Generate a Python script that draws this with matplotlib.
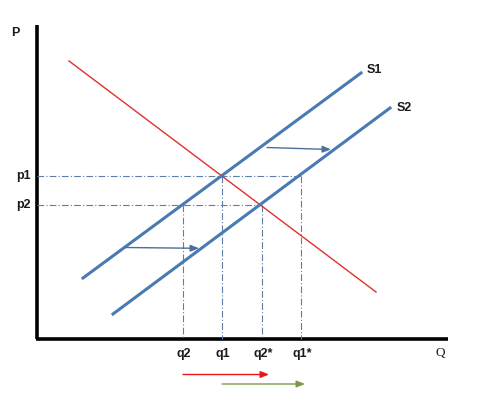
import matplotlib
matplotlib.use("Agg")
import matplotlib.pyplot as plt

# Data (in chart units: x to the right, y downward as in the picture)
demand_x = [69, 376]
demand_y = [61, 292]
s1_x = [83, 361]
s1_y = [278, 73]
s2_x = [113, 390]
s2_y = [314, 108]

price_labels = ["p1", "p2"]
price_levels = [176, 205]
price_ends = [301, 262]

qty_labels = ["q2", "q1", "q2*", "q1*"]
qty_levels = [183, 222, 262, 301]
qty_tops = [205, 176, 205, 176]

shift_arrows = [((267, 147.5), (331, 149.5)), ((125, 247.5), (199, 248.3))]
bottom_arrows = [((183, 374.5), (269, 374.5), "#e8151a"), ((222, 384), (305, 384), "#7a9a48")]

axis_origin = (37, 339)
axis_top = 25
axis_right = 448

BLUE = "#4a7ab4"
DASH = "#5c7ea8"

fig = plt.figure(figsize=(4.81, 4.04), dpi=100)
ax = fig.add_axes([0, 0, 1, 1])
ax.set_xlim(0, 481)
ax.set_ylim(404, 0)
ax.axis("off")

# axes
ax.plot([axis_origin[0], axis_origin[0]], [axis_top, axis_origin[1]], color="black", lw=2.6, solid_capstyle="butt")
ax.plot([axis_origin[0] - 1, axis_right], [axis_origin[1], axis_origin[1]], color="black", lw=2.6, solid_capstyle="butt")

# dashed guide lines
for lvl, end in zip(price_levels, price_ends):
    ax.plot([axis_origin[0], end], [lvl, lvl], color=DASH, lw=0.8, dashes=(6, 2, 1, 2))
for q, top in zip(qty_levels, qty_tops):
    ax.plot([q, q], [top, axis_origin[1]], color=DASH, lw=0.8, dashes=(6, 2, 1, 2))

# curves
ax.plot(demand_x, demand_y, color="#e0312b", lw=1.0)
ax.plot(s1_x, s1_y, color=BLUE, lw=2.2)
ax.plot(s2_x, s2_y, color=BLUE, lw=2.2)

# shift arrows
for (x0, y0), (x1, y1) in shift_arrows:
    ax.annotate("", xy=(x1, y1), xytext=(x0, y0),
                arrowprops=dict(arrowstyle="-|>,head_length=0.5,head_width=0.2", color="#4d6f9a", lw=1.0,
                                shrinkA=0, shrinkB=0))
for (x0, y0), (x1, y1), c in bottom_arrows:
    ax.annotate("", xy=(x1, y1), xytext=(x0, y0),
                arrowprops=dict(arrowstyle="-|>,head_length=0.5,head_width=0.2", color=c, lw=1.0,
                                shrinkA=0, shrinkB=0))

lab = dict(fontsize=9, fontweight="bold", family="Liberation Sans", color="#1a1a1a")
ax.text(15, 33, "P", ha="center", va="center", **lab)
ax.text(440, 353, "Q", ha="center", va="center", fontsize=9.5, family="Liberation Serif", color="#1a1a1a")
ax.text(374, 70, "S1", ha="center", va="center", **lab)
ax.text(404, 108, "S2", ha="center", va="center", **lab)
for name, lvl in zip(price_labels, price_levels):
    ax.text(23, lvl, name, ha="center", va="center", **lab)
for name, q in zip(qty_labels, qty_levels):
    ax.text(q + 1, 354, name, ha="center", va="center", **lab)

fig.savefig("out.png", dpi=100, facecolor="white")
